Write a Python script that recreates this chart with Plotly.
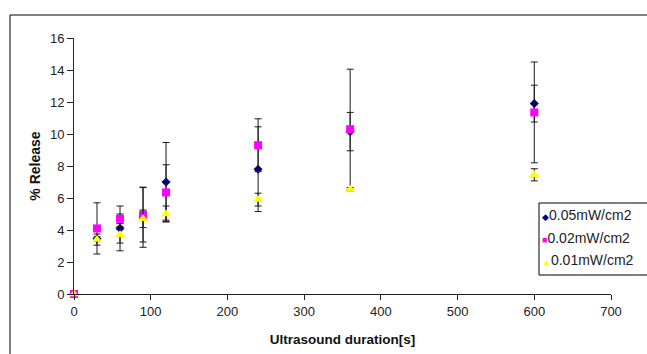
import plotly.graph_objects as go

# Ultrasound exposure time (s)
duration = [0, 30, 60, 90, 120, 240, 360, 600]

# % release per intensity, with error-bar half widths
rel_005 = [0, 3.45, 4.1, 4.8, 7.0, 7.8, 10.15, 11.9]
err_005 = [None, 0.12, 1.4, 1.88, 2.47, 2.65, 1.2, 1.15]

rel_002 = [0, 4.1, 4.7, 4.95, 6.35, 9.3, 10.3, 11.35]
err_002 = [None, 1.6, 0.3, 1.7, 1.73, 1.65, 3.75, 3.15]

rel_001 = [0, 3.4, 3.7, 4.7, 5.0, 5.9, 6.55, 7.45]
err_001 = [None, 0.35, 0.52, 0.55, 0.5, 0.4, 0.1, 0.38]

names = ["0.05mW/cm2", "0.02mW/cm2", "0.01mW/cm2"]
colors = ["#000080", "#FF00FF", "#FFFF00"]
symbols = ["diamond", "square", "triangle-up"]
sizes = [7, 8, 9]
glyphs = ["\u25C6", "\u25A0", "\u25B2"]

FONT = "Liberation Sans, Arial, sans-serif"

fig = go.Figure()
for name, ys, es, col, sym, sz in zip(
    names, [rel_005, rel_002, rel_001], [err_005, err_002, err_001], colors, symbols, sizes
):
    fig.add_trace(
        go.Scatter(
            x=duration,
            y=ys,
            name=name,
            mode="markers",
            marker=dict(color=col, symbol=sym, size=sz, line=dict(width=0)),
            error_y=dict(type="data", array=es, visible=True, color="#1a1a1a", thickness=1, width=3.5),
            cliponaxis=False,
            showlegend=False,
        )
    )

# Plot area spans 74..611 px horizontally and 38..294 px vertically
W, H = 647, 354
L, R, T, B = 74, 611, 38, 294


def px_x(p):
    return (p - L) / (R - L)


def px_y(p):
    return (B - p) / (B - T)


shapes = [
    # chart-area frame
    dict(type="rect", xref="paper", yref="paper",
         x0=px_x(10), x1=px_x(700), y0=px_y(420), y1=px_y(15),
         line=dict(color="#000000", width=1), fillcolor="rgba(0,0,0,0)", layer="below"),
    # legend box
    dict(type="rect", xref="paper", yref="paper",
         x0=px_x(539), x1=px_x(700), y0=px_y(275), y1=px_y(203),
         line=dict(color="#000000", width=1), fillcolor="white"),
]

annotations = []
for i, (name, col, g) in enumerate(zip(names, colors, glyphs)):
    yrow = [215, 238, 260][i]
    annotations.append(
        dict(xref="paper", yref="paper", x=px_x(540), y=px_y(yrow),
             xanchor="left", yanchor="middle", showarrow=False,
             text=f'<span style="color:{col};font-size:9px">{g}</span>{name}',
             font=dict(family=FONT, size=14, color="#222222"))
    )

fig.update_layout(
    width=W,
    height=H,
    margin=dict(l=L, r=W - R, t=T, b=H - B, autoexpand=False),
    paper_bgcolor="white",
    plot_bgcolor="white",
    font=dict(family=FONT, size=13, color="#222222"),
    shapes=shapes,
    annotations=annotations,
    xaxis=dict(
        range=[0, 700], dtick=100, tick0=0,
        showline=True, linecolor="#222222", linewidth=1,
        ticks="outside", ticklen=5, tickcolor="#222222",
        showgrid=False, zeroline=False,
        title=dict(text="<b>Ultrasound duration[s]</b>", standoff=16,
                   font=dict(family=FONT, size=13.5, color="#111111")),
        automargin=False,
    ),
    yaxis=dict(
        range=[0, 16], dtick=2, tick0=0,
        showline=True, linecolor="#222222", linewidth=1,
        ticks="outside", ticklen=6, tickcolor="#222222",
        showgrid=False, zeroline=False,
        title=dict(text="<b>% Release</b>", standoff=6,
                   font=dict(family=FONT, size=14, color="#111111")),
        automargin=False,
    ),
)

fig.write_html("out.html")
